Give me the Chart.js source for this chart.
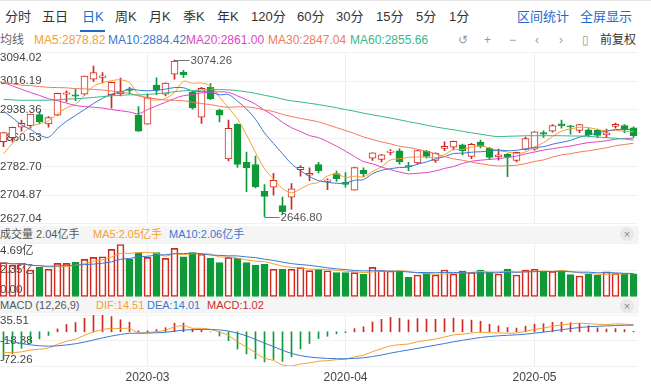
<!DOCTYPE html>
<html lang="zh-CN">
<head>
<meta charset="utf-8">
<title>日K</title>
<script src="https://cdn.jsdelivr.net/npm/chart.js@4.4.1/dist/chart.umd.min.js"></script>
<style>
body{margin:0;width:651px;height:391px;overflow:hidden;background:#fff;position:relative;
 font-family:"Liberation Sans","Noto Sans CJK SC",sans-serif;color:#333}
.t{position:absolute;white-space:nowrap;line-height:14px;height:14px}
.tab{font-size:13px;top:10px}
.blue{color:#1d6bc9}
.ma{font-size:12px;top:33px}
.ic{font-size:12px;top:33px;color:#999}
.band{position:absolute;left:0;width:639px;height:17px;background:#f5f5f5}
.bt{font-size:11px}
.x{position:absolute;left:620px;width:14px;height:14px;border-radius:7px;background:#e8e8e8;color:#888;font-size:11px;line-height:14px;text-align:center}
canvas{position:absolute;left:-1px}
</style>
</head>
<body>
<div style="position:absolute;left:0;top:0;width:651px;height:1px;background:#e6e6e6"></div>
<div class="t tab" style="left:5px">分时</div>
<div class="t tab" style="left:42px">五日</div>
<div class="t tab blue" style="left:82px">日K</div>
<div style="position:absolute;left:80px;top:30px;width:25px;height:2px;background:#1d6bc9"></div>
<div class="t tab" style="left:115px">周K</div>
<div class="t tab" style="left:149px">月K</div>
<div class="t tab" style="left:183px">季K</div>
<div class="t tab" style="left:217px">年K</div>
<div class="t tab" style="left:251px">120分</div>
<div class="t tab" style="left:297px">60分</div>
<div class="t tab" style="left:336px">30分</div>
<div class="t tab" style="left:376px">15分</div>
<div class="t tab" style="left:416px">5分</div>
<div class="t tab" style="left:449px">1分</div>
<div class="t tab blue" style="left:517px">区间统计</div>
<div class="t tab blue" style="left:580px">全屏显示</div>

<div class="t ma" style="left:0;color:#666">均线</div>
<div class="t ma" style="left:34px;color:#f5a030">MA5:2878.82</div>
<div class="t ma" style="left:108px;color:#3a78d2">MA10:2884.42</div>
<div class="t ma" style="left:186px;color:#e046c5">MA20:2861.00</div>
<div class="t ma" style="left:268px;color:#f47a5a">MA30:2847.04</div>
<div class="t ma" style="left:350px;color:#38b887">MA60:2855.66</div>
<div class="t ic" style="left:458px">↺</div>
<div class="t ic" style="left:484px">+</div>
<div class="t ic" style="left:509px">−</div>
<div class="t ic" style="left:535px">‹</div>
<div class="t ic" style="left:559px">›</div>
<div class="t ic" style="left:582px">▯</div>
<div class="t ma" style="left:600px;color:#333">前复权</div>

<div class="band" style="top:226px"></div>
<div class="t bt" style="left:0;top:227px;color:#555">成交量 2.04亿手</div>
<div class="t bt" style="left:93px;top:227px;color:#f5a030">MA5:2.05亿手</div>
<div class="t bt" style="left:169px;top:227px;color:#3a78d2">MA10:2.06亿手</div>
<div class="x" style="top:227px">×</div>

<div class="band" style="top:298px;height:16px"></div>
<div class="t bt" style="left:0;top:298px;color:#555">MACD (12,26,9)</div>
<div class="t bt" style="left:96px;top:298px;color:#f5a030">DIF:14.51</div>
<div class="t bt" style="left:147px;top:298px;color:#3a78d2">DEA:14.01</div>
<div class="t bt" style="left:207px;top:298px;color:#c9302c">MACD:1.02</div>
<div class="x" style="top:299px">×</div>

<canvas id="kline" width="652" height="186" style="top:44px"></canvas>
<canvas id="vol" width="652" height="60" style="top:240px"></canvas>
<canvas id="macd" width="652" height="79" style="top:312px"></canvas>

<script>
"use strict";

const dates = [
    "2020-02-07","2020-02-10","2020-02-11","2020-02-12","2020-02-13","2020-02-14","2020-02-17","2020-02-18",
    "2020-02-19","2020-02-20","2020-02-21","2020-02-24","2020-02-25","2020-02-26","2020-02-27","2020-02-28",
    "2020-03-02","2020-03-03","2020-03-04","2020-03-05","2020-03-06","2020-03-09","2020-03-10","2020-03-11",
    "2020-03-12","2020-03-13","2020-03-16","2020-03-17","2020-03-18","2020-03-19","2020-03-20","2020-03-23",
    "2020-03-24","2020-03-25","2020-03-26","2020-03-27","2020-03-30","2020-03-31",
    "2020-04-01","2020-04-02","2020-04-03","2020-04-07","2020-04-08","2020-04-09","2020-04-10","2020-04-13",
    "2020-04-14","2020-04-15","2020-04-16","2020-04-17","2020-04-20","2020-04-21","2020-04-22","2020-04-23",
    "2020-04-24","2020-04-27","2020-04-28","2020-04-29","2020-04-30",
    "2020-05-06","2020-05-07","2020-05-08","2020-05-11","2020-05-12","2020-05-13","2020-05-14","2020-05-15",
    "2020-05-18","2020-05-19","2020-05-20","2020-05-21"
];
const opens = [
    2851, 2862, 2891, 2895, 2925, 2900, 2924, 2981, 2979, 2981, 3022, 3027, 2980, 2982, 2995, 2924,
    2899, 3006, 2981, 3036, 3041, 2987, 2918, 3000, 2937, 2804, 2899, 2795, 2789, 2716, 2727, 2677,
    2700, 2775, 2760, 2789, 2743, 2764,
    2740, 2719, 2773, 2806, 2803, 2822, 2826, 2785, 2793, 2825, 2800, 2833, 2836, 2843, 2811, 2850,
    2833, 2810, 2817, 2800, 2830,
    2831, 2876, 2880, 2900, 2894, 2882, 2884, 2882, 2870, 2893, 2895, 2889
];
const highs = [
    2876, 2891, 2910, 2927, 2934, 2920, 2984, 2990, 2995, 3030.5, 3058, 3040, 3014, 3025, 3000, 2947,
    2982, 3026, 3012, 3074.26, 3046, 2990, 3000, 3010, 2940, 2910, 2900, 2823, 2812, 2734, 2765, 2700,
    2737, 2786, 2780, 2795, 2750, 2771,
    2767, 2781, 2780, 2821, 2817, 2830, 2832, 2795, 2828, 2828, 2821, 2851, 2853, 2845, 2847, 2856,
    2836, 2831, 2819, 2823, 2864,
    2879, 2881, 2898, 2910, 2896, 2899, 2887, 2886, 2886, 2902, 2898, 2892
];
const lows = [
    2838, 2850, 2880, 2888, 2900, 2891, 2922, 2960, 2963, 2978, 3016, 3012, 2943, 2976, 2982, 2879,
    2899, 2980, 2976, 3022, 3027, 2940, 2901, 2966, 2905, 2799, 2781, 2715, 2725, 2646.80, 2705, 2653,
    2667, 2757, 2745, 2766, 2720, 2743,
    2727, 2719, 2755, 2800, 2796, 2815, 2790, 2772, 2790, 2806, 2795, 2827, 2829, 2815, 2805, 2834,
    2802, 2801, 2756, 2796, 2829,
    2828, 2863, 2877, 2888, 2872, 2876, 2864, 2862, 2863, 2888, 2876, 2863
];
const closes = [
    2875.96, 2890.49, 2901.67, 2926.90, 2906.07, 2917.01, 2983.62, 2984.97, 2975.40, 3030.15, 3039.67,
    3031.23, 3013.05, 2987.93, 2991.33, 2880.30,
    2970.93, 2992.90, 3011.67, 3071.68, 3034.51, 2943.29, 2996.76, 2968.52, 2923.49, 2887.43, 2789.25,
    2779.64, 2728.76, 2702.13, 2745.62, 2660.17, 2722.44, 2781.59, 2764.91, 2772.20, 2747.21, 2750.30,
    2734.52, 2780.64, 2763.99, 2820.76, 2815.37, 2825.90, 2796.63, 2783.05, 2827.28, 2811.17, 2819.94,
    2838.49, 2852.55, 2827.01, 2843.98, 2838.50, 2808.53, 2815.49, 2810.02, 2822.44, 2860.08,
    2878.14, 2871.52, 2895.34, 2894.80, 2891.56, 2898.05, 2870.34, 2868.46, 2875.42, 2898.58, 2883.74, 2867.92
];
// 成交量, 亿手
const volumes = [
    3.01, 2.80, 2.95, 2.37, 2.60, 2.43, 2.95, 2.95, 3.04, 3.30,
    3.48, 3.53, 4.18, 4.60, 3.30, 3.87, 3.48, 3.90, 3.39, 4.26,
    3.53, 3.90, 3.75, 3.39, 3.01, 3.48, 3.39, 3.01, 2.80, 2.89,
    2.43, 2.43, 2.43, 2.57, 2.31, 2.43, 2.30, 2.13, 2.13, 2.13,
    1.99, 2.60, 2.31, 2.28, 2.28, 1.73, 1.93, 2.08, 1.93, 2.37,
    2.02, 2.28, 2.16, 2.37, 2.16, 2.02, 2.45, 1.93, 2.37, 2.43,
    2.22, 2.25, 2.31, 1.96, 1.84, 1.99, 1.90, 2.20, 2.05, 2.06, 2.04
];
// closes before the visible window (2019-10-08 .. 2020-02-06), only feed the MA / MACD lines
const earlierCloses = [
    2913.57, 2924.86, 2947.71, 2973.66, 3007.88, 2991.05, 2977.33, 2977.15, 2938.14, 2939.62, 2954.38,
    2941.62, 2940.92, 2954.93, 2980.05, 2954.18, 2939.32, 2929.06,
    2958.20, 2975.49, 2991.56, 2978.60, 2978.71, 2964.18, 2909.97, 2914.82, 2905.24, 2909.87, 2891.34,
    2909.20, 2933.99, 2911.05, 2903.64, 2885.29, 2906.17, 2907.06, 2903.19, 2889.69, 2871.98,
    2875.81, 2884.70, 2878.12, 2899.47, 2912.01, 2914.48, 2917.32, 2924.42, 2915.70, 2967.68, 2984.39,
    3022.42, 3017.04, 3017.07, 3004.94, 2962.75, 2982.68, 2981.88, 3007.35, 3005.04, 3040.02, 3050.12,
    3085.20, 3083.79, 3083.41, 3104.80, 3066.89, 3094.88, 3092.29, 3115.57, 3106.82, 3090.04, 3074.08,
    3075.50, 3095.79, 3052.14, 3060.75, 2976.53,
    2746.61, 2783.29, 2818.09, 2866.51
];

const priceTicks = [2627.04, 2704.87, 2782.70, 2860.53, 2938.36, 3016.19, 3094.02];
const volTicks = [0, 2.345, 4.69];
const volTickLabels = ["0.00", "2.35亿", "4.69亿"];
const macdTicks = [-72.26, -18.375, 35.51];
const macdTickLabels = ["-72.26", "-18.38", "35.51"];

const UP = "#d1291f";
const DOWN = "#0f9a3a";
const C_MA5 = "#f5a030", C_MA10 = "#3a78d2", C_MA20 = "#e046c5", C_MA30 = "#f47a5a", C_MA60 = "#38b887";

const isUp = closes.map((c, i) => c >= opens[i]);
const allCloses = earlierCloses.concat(closes);
const skip = earlierCloses.length;

function movingAvg(src, len, start) {
    const out = [];
    for (let i = start; i < src.length; i++) {
        const from = Math.max(0, i - len + 1);
        let s = 0;
        for (let j = from; j <= i; j++) s += src[j];
        out.push(s / (i - from + 1));
    }
    return out;
}
function ema(src, n) {
    const k = 2 / (n + 1);
    let e = src[0];
    return src.map((v, i) => (e = i === 0 ? v : e + k * (v - e)));
}

const e12 = ema(allCloses, 12);
const e26 = ema(allCloses, 26);
const difAll = e12.map((v, i) => v - e26[i]);
const deaAll = ema(difAll, 9);
const dif = difAll.slice(skip);
const dea = deaAll.slice(skip);
const hist = dif.map((v, i) => 2 * (v - dea[i]));

const newMonth = dates.map((d, i) => i > 0 && d.slice(5, 7) !== dates[i - 1].slice(5, 7));

function xScale(withLabels) {
    return {
        offset: true,
        grid: { offset: false, drawTicks: false, color: c => newMonth[c.index] ? "#eeeeee" : "rgba(0,0,0,0)" },
        border: { display: false },
        ticks: {
            display: withLabels, autoSkip: false, maxRotation: 0, padding: 4, color: "#444",
            font: { size: 12 },
            callback: (v, i) => newMonth[i] ? dates[i].slice(0, 7) : ""
        },
        afterFit: s => { s.height = withLabels ? 25 : 0; }
    };
}
function yScale(vals, labels, lh) {
    return {
        min: vals[0], max: vals[vals.length - 1],
        afterBuildTicks: s => { s.ticks = vals.map(v => ({ value: v })); },
        afterFit: s => { s.width = 0; s.paddingTop = 0; s.paddingBottom = 0; },
        grid: { drawTicks: false, color: "#f1f1f1" },
        border: { display: false },
        ticks: {
            mirror: true, padding: 1, autoSkip: false, color: "#444", font: { size: 11.5, lineHeight: lh },
            callback: (v, i) => i === 0 ? [labels[0], ""] : i === labels.length - 1 ? ["", labels[i]] : labels[i]
        }
    };
}
function lineSet(data, color) {
    return { type: "line", data, borderColor: color, borderWidth: 1, pointRadius: 0, tension: 0.3, order: 1 };
}
const baseOpts = {
    responsive: false, animation: false, events: [],
    plugins: { legend: { display: false }, tooltip: { enabled: false } }
};

// high / low marks on the candle chart
const extremaLabels = {
    id: "extremaLabels",
    afterDatasetsDraw(chart) {
        const { ctx, scales: { x, y } } = chart;
        const hi = highs.indexOf(Math.max(...highs));
        const lo = lows.indexOf(Math.min(...lows));
        ctx.save();
        ctx.strokeStyle = "#777";
        ctx.fillStyle = "#555";
        ctx.lineWidth = 1;
        ctx.font = '11.5px "Liberation Sans", sans-serif';
        ctx.textBaseline = "middle";
        [[hi, highs[hi]], [lo, lows[lo]]].forEach(([i, v]) => {
            const px = x.getPixelForValue(i);
            const py = Math.round(y.getPixelForValue(v)) + 0.5;
            ctx.beginPath();
            ctx.moveTo(px, py);
            ctx.lineTo(px + 15, py);
            ctx.stroke();
            ctx.fillText(v.toFixed(2), px + 16, py);
        });
        ctx.restore();
    }
};

new Chart(document.getElementById("kline"), {
    type: "bar",
    data: {
        labels: dates,
        datasets: [
            {
                data: lows.map((l, i) => [l, highs[i]]),
                backgroundColor: isUp.map(u => u ? UP : DOWN),
                barThickness: 1, grouped: false, order: 3
            },
            {
                data: opens.map((o, i) => [o, closes[i]]),
                backgroundColor: isUp.map(u => u ? "#ffffff" : DOWN),
                borderColor: isUp.map(u => u ? UP : DOWN),
                borderWidth: 1, borderSkipped: false, minBarLength: 1,
                barThickness: 7, grouped: false, order: 2
            },
            lineSet(movingAvg(allCloses, 60, skip), C_MA60),
            lineSet(movingAvg(allCloses, 30, skip), C_MA30),
            lineSet(movingAvg(allCloses, 20, skip), C_MA20),
            lineSet(movingAvg(allCloses, 10, skip), C_MA10),
            lineSet(movingAvg(allCloses, 5, skip), C_MA5)
        ]
    },
    options: {
        ...baseOpts,
        layout: { padding: { top: 8.8, bottom: 6.2, left: 0, right: 13 } },
        scales: {
            x: xScale(false),
            y: yScale(priceTicks, priceTicks.map(v => v.toFixed(2)), 0.85)
        }
    },
    plugins: [extremaLabels]
});

new Chart(document.getElementById("vol"), {
    type: "bar",
    data: {
        labels: dates,
        datasets: [
            {
                data: volumes,
                backgroundColor: isUp.map(u => u ? "rgba(255,255,255,0)" : DOWN),
                borderColor: isUp.map(u => u ? UP : DOWN),
                borderWidth: 1, borderSkipped: false,
                barThickness: 7, grouped: false, order: 2
            },
            lineSet(movingAvg(volumes, 10, 0), C_MA10),
            lineSet(movingAvg(volumes, 5, 0), C_MA5)
        ]
    },
    options: {
        ...baseOpts,
        layout: { padding: { top: 3.5, bottom: 3, left: 0, right: 13 } },
        scales: {
            x: xScale(false),
            y: yScale(volTicks, volTickLabels, 1.25)
        }
    }
});

new Chart(document.getElementById("macd"), {
    type: "bar",
    data: {
        labels: dates,
        datasets: [
            {
                data: hist,
                backgroundColor: hist.map(v => v >= 0 ? UP : DOWN),
                barThickness: 1, grouped: false, order: 2
            },
            lineSet(dea, C_MA10),
            lineSet(dif, C_MA5)
        ]
    },
    options: {
        ...baseOpts,
        layout: { padding: { top: 3, bottom: 0, left: 0, right: 13 } },
        scales: {
            x: xScale(true),
            y: yScale(macdTicks, macdTickLabels, 1.1)
        }
    }
});
</script>
</body>
</html>
